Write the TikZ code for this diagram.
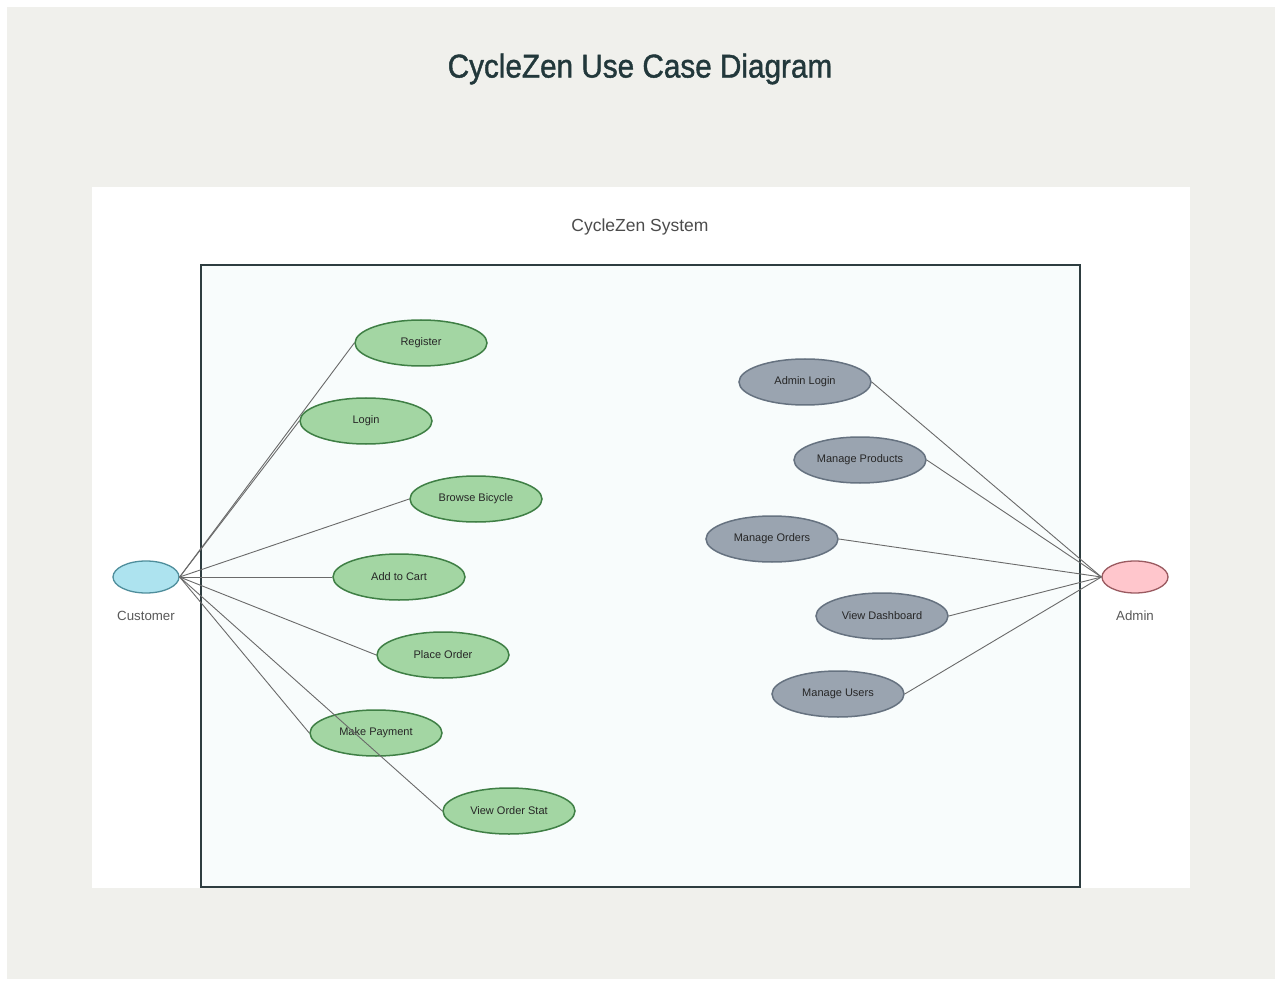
\documentclass[tikz,border=0pt]{standalone}
\usepackage{fontspec}
\setmainfont{Liberation Sans}
\newfontfamily\headfont[FakeBold=1.3]{Liberation Sans}
\usetikzlibrary{shapes.geometric}
\definecolor{pagebg}{HTML}{F0F0EC}
\definecolor{titlecol}{HTML}{22383B}
\definecolor{frame}{HTML}{2E3D40}
\definecolor{sysfill}{HTML}{F8FCFC}
\definecolor{ucgreen}{HTML}{A3D6A3}
\definecolor{ucgreenline}{HTML}{3F7F45}
\definecolor{ucgray}{HTML}{9AA4B0}
\definecolor{ucgrayline}{HTML}{667280}
\definecolor{custfill}{HTML}{ADE3EF}
\definecolor{custline}{HTML}{4F8E9C}
\definecolor{admfill}{HTML}{FFC6CC}
\definecolor{admline}{HTML}{9A5A60}
\definecolor{wire}{HTML}{6A6A6A}
\tikzset{
  usecase/.style={ellipse, draw, line width=1.5pt, minimum width=132pt,
    minimum height=46pt, inner sep=0pt, font=\fontsize{11}{13}\selectfont,
    text=black!85},
  custcase/.style={usecase, fill=ucgreen, draw=ucgreenline},
  admcase/.style={usecase, fill=ucgray, draw=ucgrayline},
  actor/.style={ellipse, draw, line width=1.3pt, minimum width=66pt,
    minimum height=32pt, inner sep=0pt},
  actorlabel/.style={font=\fontsize{13.3}{15}\selectfont, text=black!65},
  assoc/.style={draw=wire, line width=0.9pt}
}
\begin{document}
\begin{tikzpicture}[x=1pt,y=-1pt]
\useasboundingbox (0,0) rectangle (1277,981);
% page and panels
\fill[white] (0,0) rectangle (1277,981);
\fill[pagebg] (7,7) rectangle (1275,979);
\fill[white] (92,187) rectangle (1190,888);
\draw[frame, fill=sysfill, line width=2.5pt] (201,265) rectangle (1080,887);

% titles
\node[font=\headfont\fontsize{33}{38}\selectfont, text=titlecol, xscale=0.9, transform shape] (title) at (640,69) {CycleZen Use Case Diagram};
\node[font=\fontsize{17.5}{20}\selectfont, text=black!70] (system) at (640,227) {CycleZen System};

% actors
\node[actor, fill=custfill, draw=custline] (customer) at (146,577) {};
\node[actorlabel] (customerlbl) at (146,616) {Customer};
\node[actor, fill=admfill, draw=admline] (admin) at (1135,577) {};
\node[actorlabel] (adminlbl) at (1135,616) {Admin};

% customer use cases
\node[custcase] (register) at (421,343) {Register};
\node[custcase] (login) at (366,421) {Login};
\node[custcase] (browse) at (476,499) {Browse Bicycle};
\node[custcase] (cart) at (399,577) {Add to Cart};
\node[custcase] (order) at (443,655) {Place Order};
\node[custcase] (payment) at (376,733) {Make Payment};
\node[custcase] (status) at (509,811) {View Order Stat};

% admin use cases
\node[admcase] (alogin) at (805,382) {Admin Login};
\node[admcase] (products) at (860,460) {Manage Products};
\node[admcase] (orders) at (772,539) {Manage Orders};
\node[admcase] (dashboard) at (882,616) {View Dashboard};
\node[admcase] (users) at (838,694) {Manage Users};

% associations
\foreach \u in {register,login,browse,cart,order,payment,status}
  \draw[assoc] (customer.east) -- (\u.west);
\foreach \u in {alogin,products,orders,dashboard,users}
  \draw[assoc] (admin.west) -- (\u.east);
\end{tikzpicture}
\end{document}
